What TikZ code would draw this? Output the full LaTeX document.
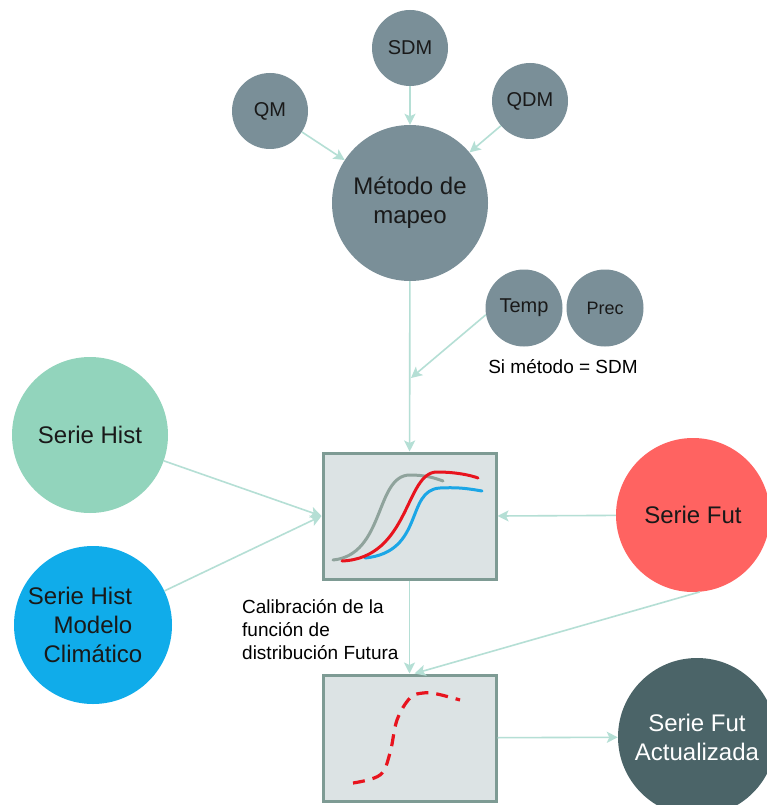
\documentclass[tikz,border=0pt]{standalone}
\usepackage{fontspec}
\setmainfont{Liberation Sans}
\usetikzlibrary{arrows.meta}
\definecolor{slatec}{HTML}{7A8F98}
\definecolor{histc}{HTML}{92D4BC}
\definecolor{cyanc}{HTML}{10ACEA}
\definecolor{futc}{HTML}{FF6361}
\definecolor{darkc}{HTML}{4B6468}
\definecolor{arrowc}{HTML}{B5DFD5}
\definecolor{boxfill}{HTML}{DCE3E4}
\definecolor{boxline}{HTML}{7E9B94}
\definecolor{grayc}{HTML}{8FA39C}
\definecolor{redc}{HTML}{E8141E}
\definecolor{bluec}{HTML}{1BA6E6}
\newcommand\FontBig{\fontsize{24}{29}\selectfont}
\newcommand\FontMid{\fontsize{20}{24}\selectfont}
\newcommand\FontSmall{\fontsize{19}{23}\selectfont}
\begin{document}
\begin{tikzpicture}[x=1pt,y=-1pt,
  bub/.style={circle, inner sep=0pt, align=center, text=black!90},
  arr/.style={draw=arrowc, line width=1.6pt, -{Stealth[length=11pt,width=11pt,inset=2.5pt]}},
  plotbox/.style={rectangle, fill=boxfill, draw=boxline, line width=3pt, minimum width=173pt, minimum height=126pt, inner sep=0pt},
  curve/.style={line width=3pt, line cap=round}]
\clip (0,0) rectangle (767,805);
\fill[white] (0,0) rectangle (767,805);

% nodes
\node[bub, fill=slatec, minimum size=76pt, font=\FontMid] (sdm) at (410,48) {SDM};
\node[bub, fill=slatec, minimum size=76pt, font=\FontMid] (qm) at (270,111) {QM};
\node[bub, fill=slatec, minimum size=76pt, font=\FontMid] (qdm) at (530,101) {QDM};
\node[bub, fill=slatec, minimum size=156pt, font=\FontBig] (metodo) at (410,203) {Método de\\mapeo};
\node[bub, fill=slatec, minimum size=77pt, font=\FontMid] (temp) at (524,308) {Temp};
\node[bub, fill=slatec, minimum size=77pt, font=\fontsize{18}{22}\selectfont] (prec) at (605,308) {Prec};
\node[font=\FontSmall, inner sep=0pt] (sicond) at (563,367) {Si método = SDM};

\node[bub, fill=histc, minimum size=156pt, font=\FontBig] (shist) at (90,435) {Serie Hist};
\node[bub, fill=cyanc, minimum size=158pt, font=\FontBig] (smod) at (93,625) {Serie Hist\hspace*{26pt}\\Modelo\\Climático};
\node[bub, fill=futc, minimum size=154pt, font=\FontBig] (sfut) at (693,515) {Serie Fut};
\node[bub, fill=darkc, minimum size=158pt, font=\FontBig, text=white] (sfa) at (697,737) {Serie Fut\\Actualizada};

\node[plotbox] (box1) at (409.5,516) {};
\node[plotbox] (box2) at (409.5,738) {};

\node[font=\FontSmall, align=left, anchor=west, inner sep=0pt] (calib) at (242,630) {Calibración de la\\función de\\distribución Futura};

% curves in box1
\draw[curve, grayc] (333,560) .. controls (385,555) and (375,475) .. (410,475) .. controls (425,475) and (435,478) .. (443,481);
\draw[curve, bluec] (365,558) .. controls (425,552) and (405,490) .. (440,488) .. controls (460,487) and (470,489) .. (482,491);
\draw[curve, redc] (342,561) .. controls (410,558) and (405,472) .. (437,472) .. controls (455,472) and (470,475) .. (478,478);

% dashed curve in box2
\draw[redc, line width=3.2pt, dash pattern=on 12pt off 8pt] plot[smooth, tension=0.6] coordinates {(353,783) (380,775) (390,753) (397,720) (410,698) (423,693) (437,694) (460,700)};

% connectors
\coordinate (tj) at (411,378);
\coordinate (b2in) at ([xshift=5pt]box2.north);
\draw[arr] (sdm) -- (metodo);
\draw[arr] (qm) -- (metodo);
\draw[arr] (qdm) -- (metodo);
\draw[arr] (metodo) -- (box1);
\draw[arr] (temp.190) -- (tj);
\draw[arr] (shist) -- (box1.west);
\draw[arr] (smod) -- (box1.west);
\draw[arr] (sfut) -- (box1.east);
\draw[arr] (box1) -- (box2);
\draw[arr] (sfut.275) -- (b2in);
\draw[arr] (box2) -- (sfa);
\end{tikzpicture}
\end{document}
